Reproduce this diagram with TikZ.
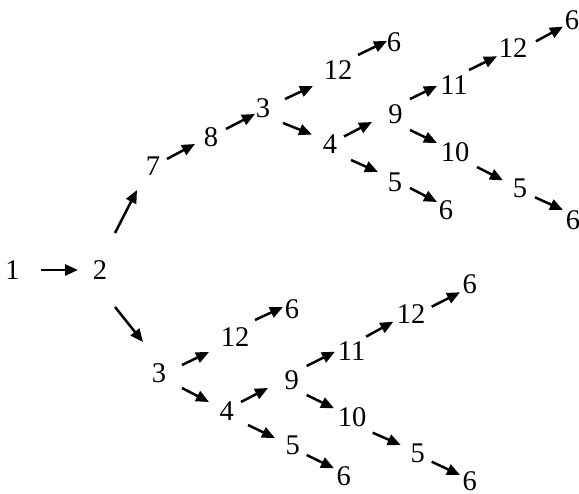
\documentclass[tikz,border=0pt]{standalone}
\usepackage{fontspec}
\setmainfont{Liberation Serif}
\usetikzlibrary{arrows.meta}
\newcommand\conn[4]{\draw[arr] ([shift={#2}]#1.center) -- ([shift={#4}]#3.center);}
\begin{document}
\begin{tikzpicture}[x=1pt,y=-1pt,
  lbl/.style={inner sep=0pt,font=\fontsize{28.5}{34}\selectfont},
  arr/.style={line width=2.5pt,-{Triangle[length=13pt,width=11pt]}}]
\useasboundingbox (0,0) rectangle (579,494);
% top branch
\node[lbl] (n1) at (12.5,270) {1};
\node[lbl] (n2) at (100,270) {2};
\node[lbl] (a7) at (153,166) {7};
\node[lbl] (a8) at (211,137) {8};
\node[lbl] (a3) at (263,108) {3};
\node[lbl] (a12) at (338,70) {12};
\node[lbl] (a6a) at (394,42) {6};
\node[lbl] (a4) at (330,144.5) {4};
\node[lbl] (a9) at (395.5,114.5) {9};
\node[lbl] (a11) at (454,85.5) {11};
\node[lbl] (a12b) at (513,48.3) {12};
\node[lbl] (a6b) at (572,20.7) {6};
\node[lbl] (a10) at (455,152) {10};
\node[lbl] (a5b) at (520,188.3) {5};
\node[lbl] (a6c) at (573,220) {6};
\node[lbl] (a5) at (395,182.5) {5};
\node[lbl] (a6d) at (446,210) {6};
% bottom branch
\node[lbl] (b3) at (159,373.7) {3};
\node[lbl] (b12) at (235,337) {12};
\node[lbl] (b6a) at (292,309.5) {6};
\node[lbl] (b4) at (226.7,410.8) {4};
\node[lbl] (b9) at (291.7,380.7) {9};
\node[lbl] (b5) at (292.7,445.8) {5};
\node[lbl] (b6c) at (343.7,476.7) {6};
\node[lbl] (b11) at (351.7,351.2) {11};
\node[lbl] (b12b) at (411.2,314.5) {12};
\node[lbl] (b6b) at (469.7,284.2) {6};
\node[lbl] (b10) at (352.2,416.7) {10};
\node[lbl] (b5b) at (417.8,453.3) {5};
\node[lbl] (b6d) at (469.7,481.5) {6};
% connectors top
\conn{n1}{(28,0)}{n2}{(-22,0)}
\conn{n2}{(15,-37)}{a7}{(-16,24)}
\conn{a7}{(14,-7)}{a8}{(-16,7)}
\conn{a8}{(15,-8)}{a3}{(-8,6)}
\conn{a3}{(22,-9)}{a12}{(-25,16)}
\conn{a12}{(20,-15)}{a6a}{(-7,-1)}
\conn{a3}{(20,15)}{a4}{(-18,-10)}
\conn{a4}{(14,-8)}{a9}{(-23.5,7.5)}
\conn{a9}{(14.5,-15.5)}{a11}{(-17,0.5)}
\conn{a11}{(15,-15.5)}{a12b}{(-16,8)}
\conn{a12b}{(23,-7)}{a6b}{(-9,6)}
\conn{a9}{(14.5,15.5)}{a10}{(-18,-9)}
\conn{a10}{(22,15)}{a5b}{(-17,-8)}
\conn{a5b}{(15,9)}{a6c}{(-10,-10)}
\conn{a4}{(21,15.5)}{a5}{(-17,-10.5)}
\conn{a5}{(15,5.5)}{a6d}{(-9,-8)}
% connectors bottom
\conn{n2}{(15,37)}{b3}{(-16,-31.7)}
\conn{b3}{(23,-8.7)}{b12}{(-26,15)}
\conn{b12}{(20,-17)}{b6a}{(-9,-2.5)}
\conn{b3}{(23,14.3)}{b4}{(-17.7,-8.8)}
\conn{b4}{(14.3,-8.8)}{b9}{(-23.7,7.3)}
\conn{b4}{(21.3,14.2)}{b5}{(-17.7,-7.8)}
\conn{b9}{(15,-14.7)}{b11}{(-16.7,0.5)}
\conn{b11}{(14.3,-14.5)}{b12b}{(-17.9,7.2)}
\conn{b12b}{(20.5,-7.8)}{b6b}{(-9.7,8.1)}
\conn{b9}{(15,14.3)}{b10}{(-18.2,-8.4)}
\conn{b10}{(20.5,16)}{b5b}{(-17.1,-8.3)}
\conn{b5b}{(13.9,8.4)}{b6d}{(-9.7,-6.5)}
\conn{b5}{(14,9.2)}{b6c}{(-9.7,-8.4)}
\end{tikzpicture}
\end{document}
